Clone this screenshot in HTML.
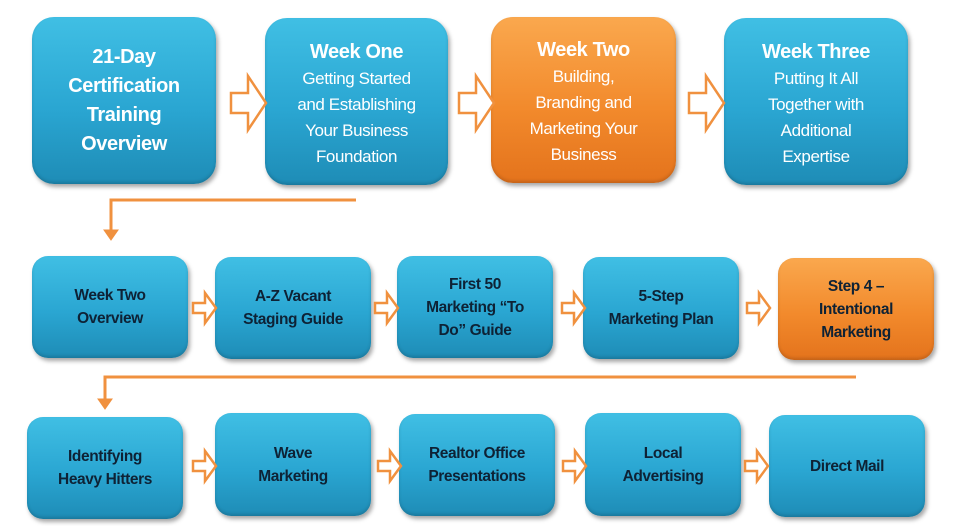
<!DOCTYPE html>
<html><head><meta charset="utf-8"><style>
body{margin:0;width:960px;height:526px;background:#fff;position:relative;overflow:hidden;font-family:"Liberation Sans",sans-serif}
.b{position:absolute;box-sizing:border-box;border-radius:16px;background:linear-gradient(#40bfe4,#2aa6d2 55%,#1e8cb6);box-shadow:2px 3px 4px rgba(0,0,0,.35),inset 0 -2px 3px rgba(0,0,0,.15);display:flex;align-items:center;justify-content:center;text-align:center;color:#0e2235;font-weight:bold;font-size:15.5px;line-height:23px;letter-spacing:-0.4px}
.o{background:linear-gradient(#faa84e,#f28a2c 55%,#e4731c)}
.w{color:#fff;font-size:17px;line-height:26px;font-weight:normal}
.w b{font-size:20px;display:block;line-height:28px}
.big{color:#fff;font-size:20px;line-height:29px}
svg{position:absolute;left:0;top:0}
</style></head><body>
<div class="b big" style="left:32px;top:17px;width:184px;height:167px;border-radius:22px">21-Day<br>Certification<br>Training<br>Overview</div>
<div class="b w" style="left:265px;top:18px;width:183px;height:167px;border-radius:22px;padding-top:4px"><div><b>Week One</b>Getting Started<br>and Establishing<br>Your Business<br>Foundation</div></div>
<div class="b w o" style="left:491px;top:17px;width:185px;height:166px;border-radius:22px;padding-top:4px"><div><b>Week Two</b>Building,<br>Branding and<br>Marketing Your<br>Business</div></div>
<div class="b w" style="left:724px;top:18px;width:184px;height:167px;border-radius:22px;padding-top:4px"><div><b>Week Three</b>Putting It All<br>Together with<br>Additional<br>Expertise</div></div>

<div class="b" style="left:32px;top:256px;width:156px;height:102px">Week Two<br>Overview</div>
<div class="b" style="left:215px;top:257px;width:156px;height:102px">A-Z Vacant<br>Staging Guide</div>
<div class="b" style="left:397px;top:256px;width:156px;height:102px">First 50<br>Marketing “To<br>Do” Guide</div>
<div class="b" style="left:583px;top:257px;width:156px;height:102px">5-Step<br>Marketing Plan</div>
<div class="b o" style="left:778px;top:258px;width:156px;height:102px">Step 4 –<br>Intentional<br>Marketing</div>

<div class="b" style="left:27px;top:417px;width:156px;height:102px">Identifying<br>Heavy Hitters</div>
<div class="b" style="left:215px;top:413px;width:156px;height:103px">Wave<br>Marketing</div>
<div class="b" style="left:399px;top:414px;width:156px;height:102px">Realtor Office<br>Presentations</div>
<div class="b" style="left:585px;top:413px;width:156px;height:103px">Local<br>Advertising</div>
<div class="b" style="left:769px;top:415px;width:156px;height:102px">Direct Mail</div>

<svg width="960" height="526" fill="#fff" stroke="#f0913f" stroke-width="2.5">
<defs><g id="a1"><path d="M0,17 H17 V0 L35,27 L17,54 V37 H0 Z"/></g>
<g id="a2"><path d="M0,10 H12 V0 L23,15 L12,30 V20 H0 Z"/></g></defs>
<use href="#a1" x="231" y="76"/><use href="#a1" x="459" y="76"/><use href="#a1" x="689" y="76"/>
<use href="#a2" x="193" y="293"/><use href="#a2" x="375" y="293"/><use href="#a2" x="562" y="293"/><use href="#a2" x="747" y="293"/>
<use href="#a2" x="193" y="451"/><use href="#a2" x="378" y="451"/><use href="#a2" x="563" y="451"/><use href="#a2" x="745" y="451"/>
<path d="M356,200 H111 V232" fill="none" stroke-width="3"/>
<path d="M104,230 L111,240 L118,230 Z" fill="#f0913f" stroke-width="1"/>
<path d="M856,377 H105 V401" fill="none" stroke-width="3"/>
<path d="M98,399 L105,409 L112,399 Z" fill="#f0913f" stroke-width="1"/>
</svg>
</body></html>
